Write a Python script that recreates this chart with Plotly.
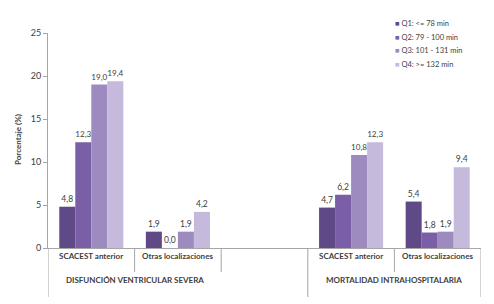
import plotly.graph_objects as go

categories = ["SCACEST anterior", "Otras localizaciones", "", "SCACEST anterior", "Otras localizaciones"]
groups = ["DISFUNCIÓN VENTRICULAR SEVERA", "MORTALIDAD INTRAHOSPITALARIA"]
series_names = ["Q1: <= 78 min", "Q2: 79 - 100 min", "Q3: 101 - 131 min", "Q4: >= 132 min"]
q1 = [4.8, 1.9, None, 4.7, 5.4]
q2 = [12.3, 0.0, None, 6.2, 1.8]
q3 = [19.0, 1.9, None, 10.8, 1.9]
q4 = [19.4, 4.2, None, 12.3, 9.4]
colors = ["#5f4a87", "#7a5ea6", "#9d8bbf", "#c5badb"]

W, H = 494, 304
L, R, T, B = 48, 13, 33, 56
font = "Lato, 'Open Sans', sans-serif"
txtc = "#404040"

fig = go.Figure()
xs = list(range(len(categories)))
for name, vals, c in zip(series_names, [q1, q2, q3, q4], colors):
    fig.add_trace(go.Bar(
        x=xs, y=vals, name=name, marker_color=c, marker_line_width=0,
        text=[("" if v is None else f"{v:.1f}".replace(".", ",")) for v in vals],
        textposition="outside", cliponaxis=False,
        textfont=dict(size=8.5, color=txtc, family=font),
    ))

ph = H - T - B
pw = W - L - R
def py(p):
    return (H - B - p) / ph
def px(p):
    return (p - L) / pw

anns = []
for i, c in enumerate(categories):
    if c:
        anns.append(dict(x=i, y=py(263), xref="x", yref="paper", text=f"<b>{c}</b>",
                         showarrow=False, font=dict(size=8, color=txtc, family=font)))
for gx, g in zip([0.5, 3.5], groups):
    anns.append(dict(x=gx, y=py(287), xref="x", yref="paper", text=f"<b>{g}</b>",
                     showarrow=False, font=dict(size=8, color=txtc, family=font)))
anns.append(dict(x=px(18), y=py(140), xref="paper", yref="paper", xanchor="center", yanchor="middle",
                 text="<b>Porcentaje (%)</b>", textangle=-90, showarrow=False,
                 font=dict(size=8, color=txtc, family=font)))
# legend as annotations
for k, (name, c) in enumerate(zip(series_names, colors)):
    ypx = 23.5 + k * 13.5
    anns.append(dict(x=px(393), y=py(ypx), xref="paper", yref="paper", showarrow=False,
                     text=f"<span style='color:{c}'>■</span> {name.replace('<', '&lt;').replace('>', '&gt;')}",
                     xanchor="left", yanchor="middle",
                     font=dict(size=7.5, color=txtc, family=font)))

shapes = []
line_c = "#a6a6a6"
for xv, bottom in [(-0.5, 297), (0.5, 272), (1.5, 272), (2.5, 297), (3.5, 272), (4.5, 297)]:
    shapes.append(dict(type="line", xref="x", yref="paper", x0=xv, x1=xv, y0=0, y1=py(bottom),
                       line=dict(color=line_c, width=1)))

fig.update_layout(
    width=W, height=H, margin=dict(l=L, r=R, t=T, b=B),
    paper_bgcolor="white", plot_bgcolor="white",
    barmode="group", bargap=0.26, bargroupgap=0,
    showlegend=False, annotations=anns, shapes=shapes,
    font=dict(family=font, size=9, color=txtc),
)
fig.update_xaxes(range=[-0.5, 4.5], showticklabels=False, showgrid=False, zeroline=False,
                 showline=True, linecolor=line_c, linewidth=1, ticks="", fixedrange=True)
fig.update_yaxes(range=[0, 25], dtick=5, showgrid=False, zeroline=False, showline=True,
                 linecolor=line_c, linewidth=1, ticks="outside", ticklen=4, tickcolor=line_c,
                 tickfont=dict(size=9, color=txtc, family=font))

fig.write_html("out.html", config={"displayModeBar": False},
               post_script="document.body.style.margin='0';")
